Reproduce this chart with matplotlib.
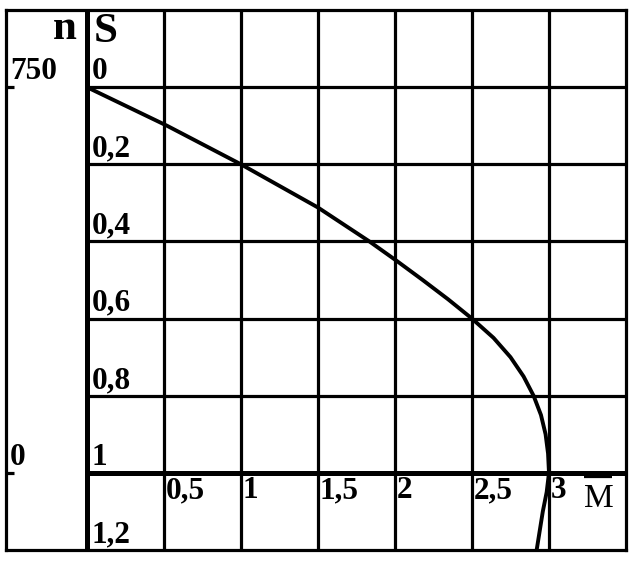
import matplotlib
matplotlib.use("Agg")
import matplotlib.pyplot as plt

# Data: torque M (relative) vs slip S
S_vals = [0.0, 0.1, 0.2, 0.312, 0.4, 0.45, 0.5, 0.55, 0.6, 0.65, 0.7, 0.75, 0.8,
          0.85, 0.9, 0.95, 1.0, 1.05, 1.1, 1.2]
M_vals = [0.0, 0.52, 1.0, 1.5, 1.834, 2.01, 2.18, 2.345, 2.5, 2.64, 2.75, 2.835, 2.90,
          2.948, 2.978, 2.994, 3.0, 2.985, 2.96, 2.92]

s_ticks = [0, 0.2, 0.4, 0.6, 0.8, 1, 1.2]
s_labels = ["0", "0,2", "0,4", "0,6", "0,8", "1", "1,2"]
m_ticks = [0.5, 1, 1.5, 2, 2.5, 3]
m_labels = ["0,5", "1", "1,5", "2", "2,5", "3"]
n_labels = ["750", "0"]
n_ticks = [0, 1]

W, H = 637, 563
fig = plt.figure(figsize=(W / 100, H / 100), dpi=100)
ax = fig.add_axes([6 / W, 1 - 550 / H, 620 / W, 540 / H])
ax.set_xlim(-0.525, 3.5)
ax.set_ylim(1.2, -0.2)
ax.set_xticks([])
ax.set_yticks([])
for sp in ax.spines.values():
    sp.set_linewidth(2.3)
    sp.set_color("black")

grid_lw = 2.3
# vertical grid lines
for x in [0.5, 1, 1.5, 2, 2.5, 3]:
    ax.axvline(x, color="black", lw=grid_lw, zorder=1)
# horizontal grid lines (only right of the S axis)
for s in [0, 0.2, 0.4, 0.6, 0.8]:
    ax.plot([0, 3.5], [s, s], color="black", lw=grid_lw, zorder=1, solid_capstyle="butt")
# thick axes
ax.axvline(0, color="black", lw=3.6, zorder=2)
ax.plot([0, 3.5], [1, 1], color="black", lw=3.6, zorder=2, solid_capstyle="butt")

# curve
ax.plot(M_vals, S_vals, color="black", lw=2.8, zorder=3,
        solid_joinstyle="round", solid_capstyle="butt")

font = "Liberation Serif"
fs = 22.5
for t, lab in zip(s_ticks, s_labels):
    ax.text(0.03, t - 0.02, lab, ha="left", va="baseline", fontsize=fs,
            fontweight="bold", family=font)
for t, lab in zip(m_ticks, m_labels):
    ax.text(t + 0.012, 1.065, lab, ha="left", va="baseline", fontsize=fs,
            fontweight="bold", family=font)
for t, lab in zip(n_ticks, n_labels):
    ax.text(-0.5, t - 0.02, lab, ha="left", va="baseline", fontsize=fs,
            fontweight="bold", family=font)
    ax.plot([-0.52, -0.47], [t, t], color="black", lw=2.3, solid_capstyle="butt")

ax.text(-0.065, -0.125, "n", ha="right", va="baseline", fontsize=31,
        fontweight="bold", family=font)
ax.text(0.045, -0.117, "S", ha="left", va="baseline", fontsize=31,
        fontweight="bold", family=font)
ax.text(3.225, 1.088, "M", ha="left", va="baseline", fontsize=24, family=font)
ax.plot([3.227, 3.41], [1.012, 1.012], color="black", lw=1.6, solid_capstyle="butt")

fig.savefig("out.png", dpi=100)
